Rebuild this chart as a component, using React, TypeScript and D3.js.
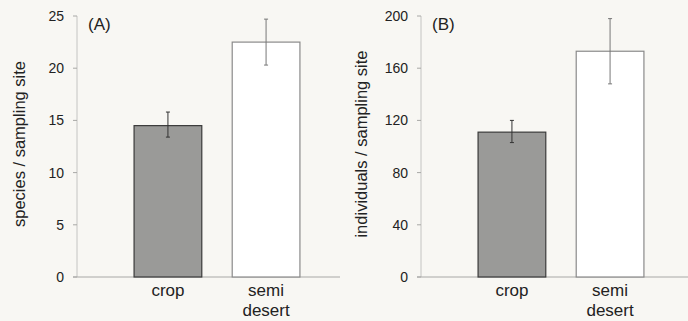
import React from "react"
import * as d3 from "d3"

const categories = ["crop", "semi desert"]
const speciesMean = [14.5, 22.5]
const speciesLow = [13.4, 20.3]
const speciesHigh = [15.8, 24.7]
const speciesTicks = [0, 5, 10, 15, 20, 25]

const individualsMean = [111, 173]
const individualsLow = [103, 148]
const individualsHigh = [120, 198]
const individualsTicks = [0, 40, 80, 120, 160, 200]

const font = "'Liberation Sans', Arial, sans-serif"

type PanelProps = {
  left: number
  tag: string
  yLabel: string
  yMax: number
  ticks: number[]
  mean: number[]
  low: number[]
  high: number[]
  axisRight: number
  labelX: number
}

function Panel(p: PanelProps) {
  const top = 16
  const bottom = 277
  const axisX = 77
  const y = d3.scaleLinear().domain([0, p.yMax]).range([bottom, top])
  // bars sit at about 134-200 and 232-301 from the panel's left
  const x = d3.scaleBand().domain(categories).range([axisX + 8, axisX + 272]).paddingInner(0.31).paddingOuter(0.5)
  const fills = ["#9a9a98", "#ffffff"]
  const strokes = ["#3a3a3a", "#8a8a8a"]
  const errColor = ["#333", "#777"]

  return (
    <g transform={`translate(${p.left},0)`}>
      <line x1={axisX} x2={axisX} y1={top} y2={bottom} stroke="#c4c4c2" strokeWidth={1} />
      <line x1={axisX - 4} x2={p.axisRight} y1={bottom} y2={bottom} stroke="#a8a8a6" strokeWidth={1} />
      {p.ticks.map(t => (
        <g key={t}>
          <line x1={axisX - 4} x2={axisX} y1={y(t)} y2={y(t)} stroke="#a8a8a6" />
          <text x={axisX - 13} y={y(t)} dy="0.36em" textAnchor="end" fontSize={14} fill="#222" fontFamily={font}>
            {t}
          </text>
        </g>
      ))}
      {categories.map((c, i) => {
        const bx = x(c)!
        const bw = x.bandwidth()
        const cx = bx + bw / 2
        return (
          <g key={c}>
            <rect x={bx} y={y(p.mean[i])} width={bw} height={bottom - y(p.mean[i])} fill={fills[i]} stroke={strokes[i]} strokeWidth={1.2} />
            <line x1={cx} x2={cx} y1={y(p.low[i])} y2={y(p.high[i])} stroke={errColor[i]} strokeWidth={1} />
            <line x1={cx - 2} x2={cx + 2} y1={y(p.low[i])} y2={y(p.low[i])} stroke={errColor[i]} />
            <line x1={cx - 2} x2={cx + 2} y1={y(p.high[i])} y2={y(p.high[i])} stroke={errColor[i]} />
            {c.split(" ").map((w, j) => (
              <text key={w} x={cx} y={296 + j * 20} textAnchor="middle" fontSize={17} fill="#222" fontFamily={font}>
                {w}
              </text>
            ))}
          </g>
        )
      })}
      <text x={88} y={30} fontSize={17} fill="#222" fontFamily={font}>
        {p.tag}
      </text>
      <text
        transform={`translate(${p.labelX},144) rotate(-90)`}
        textAnchor="middle"
        fontSize={16.5}
        fill="#222"
        fontFamily={font}
      >
        {p.yLabel}
      </text>
    </g>
  )
}

export default function App() {
  return (
    <svg width={688} height={321} style={{ position: "absolute", left: 0, top: 0, background: "#f8f7f3" }}>
      <Panel
        left={0}
        tag="(A)"
        yLabel="species / sampling site"
        yMax={25}
        ticks={speciesTicks}
        mean={speciesMean}
        low={speciesLow}
        high={speciesHigh}
        axisRight={340}
        labelX={25}
      />
      <Panel
        left={344}
        tag="(B)"
        yLabel="individuals / sampling site"
        yMax={200}
        ticks={individualsTicks}
        mean={individualsMean}
        low={individualsLow}
        high={individualsHigh}
        axisRight={344}
        labelX={23}
      />
    </svg>
  )
}
